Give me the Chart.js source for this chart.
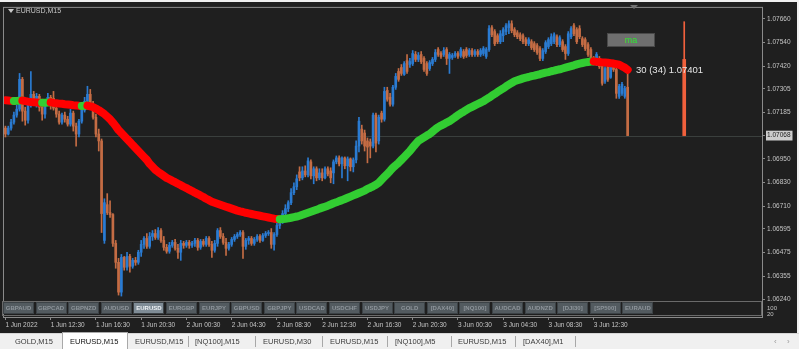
<!DOCTYPE html>
<html><head><meta charset="utf-8">
<script src="https://cdn.jsdelivr.net/npm/chart.js@4.4.1/dist/chart.umd.min.js"></script>
<style>
html,body{margin:0;padding:0}
body{width:799px;height:349px;background:#f0f0f0;position:relative;overflow:hidden;font-family:'Liberation Sans',Arial,sans-serif}
#cv{position:absolute;left:0;top:2px;background:#1f1f1f}
.ov{position:absolute;white-space:nowrap}
#title{left:16px;top:7px;font-size:7px;line-height:8px;color:#c8c8c8}
#tri{left:8px;top:9px;width:0;height:0;border-left:3px solid transparent;border-right:3px solid transparent;border-top:4px solid #c8c8c8}
#shift{left:630px;top:5px;width:0;height:0;border-left:4px solid transparent;border-right:4px solid transparent;border-top:4px solid #707070}
#mabtn{left:607px;top:33px;width:46px;height:12px;background:#6f6f6f;border:1px solid #4a4a4a;color:#2ee02e;font-size:9px;line-height:12px;text-align:center}
#lbl{left:636px;top:64px;font-size:9.5px;line-height:12px;color:#e6e6e6}
#btnrow{left:2px;top:301px;width:760px;height:15px;border:1px solid #6a6a6a;box-sizing:border-box}
.sb{position:absolute;top:302px;width:31px;height:12px;box-sizing:border-box;background:#535b60;border:1px solid #3c4246;color:#8e959b;font-size:6px;line-height:10px;text-align:center;font-weight:bold}
.sb.act{background:#7f8c96;color:#eef2f5}
.rt{left:767px;font-size:6px;line-height:6px;color:#c0c0c0}
#tabs{left:0;top:333px;width:799px;height:16px;background:#f0f0f0;border-top:1px solid #d6d6d6;box-sizing:border-box}
.tb{position:absolute;top:337px;font-size:7.5px;line-height:9px;color:#3a3a3a}
.sep{position:absolute;top:336px;width:1px;height:11px;background:#a8a8a8}
#act{left:62px;top:332px;width:66px;height:17px;background:#ffffff;border:1px solid #a9a9a9;border-bottom:none;box-sizing:border-box}
.arr{position:absolute;top:337px;font-size:8px;line-height:9px;color:#9a9a9a}
</style></head><body>
<canvas id="cv" width="797" height="331"></canvas>
<div class="ov" id="tri"></div>
<div class="ov" id="title">EURUSD,M15</div>
<div class="ov" id="shift"></div>
<div class="ov" id="mabtn">ma</div>
<div class="ov" id="lbl">30 (34) 1.07401</div>
<div class="ov" id="btnrow"></div>
<div id="btns"></div>
<div class="ov rt" style="top:305px">100</div>
<div class="ov rt" style="top:311px">20</div>
<div class="ov" id="tabs"></div>
<div class="ov" id="act"></div>
<span class="tb" style="left:15px">GOLD,M15</span>
<span class="tb" style="left:70px;color:#111">EURUSD,M15</span>
<span class="tb" style="left:135px">EURUSD,M15</span>
<div class="sep" style="left:188px"></div>
<span class="tb" style="left:195px">[NQ100],M15</span>
<div class="sep" style="left:255px"></div>
<span class="tb" style="left:263px">EURUSD,M30</span>
<div class="sep" style="left:322px"></div>
<span class="tb" style="left:330px">EURUSD,M15</span>
<div class="sep" style="left:387px"></div>
<span class="tb" style="left:395px">[NQ100],M5</span>
<div class="sep" style="left:451px"></div>
<span class="tb" style="left:458px">EURUSD,M15</span>
<div class="sep" style="left:515px"></div>
<span class="tb" style="left:523px">[DAX40],M1</span>
<div class="sep" style="left:575px"></div>
<span class="arr" style="left:774px">&#8249;</span>
<span class="arr" style="left:787px">&#8250;</span>
<script>
// ---------- data ----------
const slotCount = 268;
const timeTickIdx = [0,16,32,48,64,80,96,112,128,144,160,176,192,208];
const timeTickLabels = ['1 Jun 2022','1 Jun 12:30','1 Jun 16:30','1 Jun 20:30','2 Jun 00:30','2 Jun 04:30','2 Jun 08:30','2 Jun 12:30','2 Jun 16:30','2 Jun 20:30','3 Jun 00:30','3 Jun 04:30','3 Jun 08:30','3 Jun 12:30'];
const priceTicks = [1.07660,1.07540,1.07420,1.07305,1.07185,1.07068,1.06950,1.06830,1.06710,1.06595,1.06475,1.06355,1.06240];
const currentPrice = 1.07068;
const symbolButtons = ['GBPAUD','GBPCAD','GBPNZD','AUDUSD','EURUSD','EURGBP','EURJPY','GBPUSD','GBPJPY','USDCAD','USDCHF','USDJPY','GOLD','[DAX40]','[NQ100]','AUDCAD','AUDNZD','[DJI30]','[SP500]','EURAUD'];
const activeSymbol = 'EURUSD';

const openP = [
1.07106,1.07076,1.07106,1.07136,1.07172,1.07202,1.07353,1.07192,1.07146,1.07222,
1.07277,1.07237,1.07267,1.07212,1.07177,1.07232,1.07262,1.07257,1.07207,1.07177,
1.07136,1.07172,1.07151,1.07126,1.07182,1.07116,1.07076,1.07141,1.07197,1.07242,
1.07277,1.07227,1.07161,1.07076,1.07041,1.06537,1.06718,1.06678,1.06668,1.06522,
1.06426,1.06275,1.06451,1.06401,1.06456,1.06406,1.06436,1.06426,1.06477,1.06517,
1.06547,1.06507,1.06557,1.06572,1.06552,1.06587,1.06537,1.06502,1.06482,1.06512,
1.06527,1.06497,1.06477,1.06522,1.06512,1.06527,1.06512,1.06522,1.06537,1.06502,
1.06532,1.06517,1.06547,1.06517,1.06487,1.06522,1.06587,1.06557,1.06527,1.06497,
1.06517,1.06542,1.06557,1.06567,1.06577,1.06507,1.06537,1.06547,1.06522,1.06542,
1.06557,1.06537,1.06562,1.06572,1.06577,1.06517,1.06567,1.06613,1.06638,1.06673,
1.06698,1.06728,1.06779,1.06809,1.06884,1.06854,1.06889,1.06869,1.06935,1.06864,
1.06900,1.06854,1.06879,1.06854,1.06900,1.06889,1.06879,1.06935,1.06955,1.06925,
1.06955,1.06915,1.06950,1.06910,1.06945,1.07015,1.07101,1.07081,1.07041,1.07036,
1.07015,1.07172,1.07041,1.07182,1.07151,1.07297,1.07262,1.07227,1.07313,1.07393,
1.07413,1.07378,1.07448,1.07428,1.07433,1.07479,1.07454,1.07479,1.07459,1.07433,
1.07408,1.07433,1.07454,1.07504,1.07484,1.07479,1.07504,1.07459,1.07464,1.07474,
1.07484,1.07474,1.07494,1.07504,1.07479,1.07499,1.07479,1.07494,1.07479,1.07484,
1.07469,1.07504,1.07615,1.07595,1.07574,1.07544,1.07574,1.07595,1.07615,1.07635,
1.07605,1.07589,1.07579,1.07574,1.07554,1.07534,1.07544,1.07534,1.07524,1.07509,
1.07459,1.07494,1.07519,1.07534,1.07544,1.07569,1.07529,1.07544,1.07519,1.07484,
1.07569,1.07625,1.07605,1.07610,1.07559,1.07554,1.07529,1.07504,1.07459,1.07433,
1.07459,1.07433,1.07343,1.07418,1.07363,1.07433,1.07403,1.07267,1.07282,1.07267,
1.07313];
const highP = [
1.07116,1.07116,1.07151,1.07187,1.07222,1.07383,1.07363,1.07212,1.07242,1.07393,
1.07292,1.07282,1.07277,1.07227,1.07242,1.07282,1.07272,1.07292,1.07222,1.07192,
1.07182,1.07187,1.07166,1.07202,1.07192,1.07131,1.07151,1.07212,1.07262,1.07318,
1.07302,1.07242,1.07177,1.07101,1.07051,1.06748,1.06774,1.06738,1.06673,1.06537,
1.06446,1.06466,1.06456,1.06477,1.06466,1.06446,1.06451,1.06487,1.06537,1.06557,
1.06572,1.06577,1.06587,1.06592,1.06602,1.06597,1.06557,1.06517,1.06527,1.06537,
1.06542,1.06517,1.06537,1.06532,1.06537,1.06537,1.06532,1.06547,1.06547,1.06542,
1.06542,1.06557,1.06557,1.06532,1.06537,1.06597,1.06602,1.06572,1.06547,1.06527,
1.06552,1.06567,1.06577,1.06587,1.06587,1.06547,1.06557,1.06557,1.06552,1.06567,
1.06567,1.06572,1.06582,1.06587,1.06597,1.06577,1.06628,1.06658,1.06688,1.06718,
1.06738,1.06799,1.06829,1.06869,1.06910,1.06910,1.06915,1.06955,1.06945,1.06910,
1.06910,1.06900,1.06900,1.06910,1.06910,1.06905,1.06945,1.06965,1.06965,1.06960,
1.06960,1.06960,1.06955,1.06955,1.07041,1.07161,1.07121,1.07096,1.07056,1.07051,
1.07182,1.07182,1.07172,1.07192,1.07313,1.07313,1.07282,1.07323,1.07383,1.07408,
1.07428,1.07443,1.07479,1.07459,1.07499,1.07494,1.07489,1.07494,1.07469,1.07443,
1.07448,1.07464,1.07504,1.07514,1.07494,1.07514,1.07514,1.07489,1.07484,1.07494,
1.07494,1.07514,1.07504,1.07514,1.07509,1.07509,1.07504,1.07504,1.07509,1.07519,
1.07514,1.07625,1.07625,1.07605,1.07584,1.07600,1.07615,1.07635,1.07650,1.07650,
1.07615,1.07600,1.07589,1.07584,1.07564,1.07564,1.07554,1.07544,1.07534,1.07519,
1.07509,1.07549,1.07564,1.07584,1.07589,1.07579,1.07574,1.07554,1.07529,1.07595,
1.07620,1.07635,1.07615,1.07625,1.07569,1.07564,1.07539,1.07514,1.07469,1.07489,
1.07469,1.07443,1.07418,1.07428,1.07443,1.07443,1.07413,1.07328,1.07338,1.07318,
1.07393];
const lowP = [
1.07061,1.07071,1.07096,1.07126,1.07161,1.07192,1.07141,1.07121,1.07131,1.07212,
1.07222,1.07212,1.07192,1.07146,1.07156,1.07222,1.07202,1.07197,1.07161,1.07126,
1.07126,1.07136,1.07116,1.07116,1.07091,1.07015,1.07061,1.07131,1.07187,1.07232,
1.07217,1.07151,1.07061,1.06990,1.06577,1.06522,1.06668,1.06653,1.06507,1.06396,
1.06260,1.06255,1.06386,1.06386,1.06376,1.06396,1.06411,1.06416,1.06456,1.06497,
1.06497,1.06497,1.06537,1.06542,1.06542,1.06527,1.06487,1.06472,1.06472,1.06502,
1.06487,1.06446,1.06436,1.06497,1.06502,1.06497,1.06502,1.06507,1.06487,1.06492,
1.06507,1.06507,1.06507,1.06451,1.06477,1.06507,1.06547,1.06517,1.06461,1.06487,
1.06507,1.06532,1.06547,1.06557,1.06446,1.06492,1.06517,1.06512,1.06512,1.06532,
1.06527,1.06532,1.06552,1.06562,1.06497,1.06487,1.06557,1.06597,1.06623,1.06658,
1.06683,1.06718,1.06769,1.06794,1.06839,1.06844,1.06859,1.06859,1.06849,1.06824,
1.06839,1.06844,1.06839,1.06849,1.06864,1.06829,1.06824,1.06925,1.06915,1.06854,
1.06900,1.06839,1.06889,1.06884,1.06930,1.06985,1.07025,1.06990,1.06930,1.06955,
1.07005,1.06985,1.07025,1.07136,1.07141,1.07242,1.07217,1.07217,1.07302,1.07343,
1.07373,1.07373,1.07383,1.07413,1.07423,1.07443,1.07443,1.07433,1.07393,1.07373,
1.07398,1.07423,1.07443,1.07469,1.07459,1.07469,1.07428,1.07383,1.07454,1.07464,
1.07459,1.07464,1.07459,1.07464,1.07469,1.07469,1.07469,1.07469,1.07469,1.07474,
1.07459,1.07494,1.07569,1.07524,1.07534,1.07534,1.07544,1.07579,1.07584,1.07589,
1.07569,1.07559,1.07549,1.07534,1.07524,1.07524,1.07504,1.07494,1.07479,1.07448,
1.07448,1.07484,1.07509,1.07524,1.07534,1.07519,1.07519,1.07494,1.07454,1.07474,
1.07559,1.07574,1.07534,1.07559,1.07519,1.07499,1.07469,1.07448,1.07428,1.07423,
1.07408,1.07323,1.07333,1.07343,1.07358,1.07393,1.07257,1.07257,1.07272,1.07257,
1.07068];
const closeP = [
1.07076,1.07106,1.07136,1.07172,1.07202,1.07353,1.07192,1.07146,1.07222,1.07277,
1.07237,1.07267,1.07212,1.07177,1.07232,1.07262,1.07227,1.07207,1.07177,1.07136,
1.07172,1.07151,1.07126,1.07182,1.07116,1.07076,1.07141,1.07197,1.07242,1.07277,
1.07227,1.07161,1.07076,1.07041,1.06673,1.06728,1.06678,1.06668,1.06522,1.06426,
1.06275,1.06451,1.06401,1.06456,1.06406,1.06436,1.06426,1.06477,1.06517,1.06547,
1.06507,1.06557,1.06572,1.06552,1.06587,1.06537,1.06502,1.06482,1.06512,1.06527,
1.06497,1.06477,1.06522,1.06512,1.06527,1.06512,1.06522,1.06537,1.06502,1.06532,
1.06517,1.06547,1.06517,1.06487,1.06522,1.06587,1.06557,1.06527,1.06497,1.06517,
1.06542,1.06557,1.06567,1.06577,1.06507,1.06537,1.06547,1.06522,1.06542,1.06557,
1.06537,1.06562,1.06572,1.06577,1.06517,1.06567,1.06613,1.06638,1.06673,1.06698,
1.06728,1.06779,1.06809,1.06849,1.06854,1.06889,1.06869,1.06940,1.06864,1.06900,
1.06854,1.06879,1.06854,1.06900,1.06874,1.06854,1.06935,1.06955,1.06925,1.06955,
1.06915,1.06950,1.06910,1.06945,1.07015,1.07141,1.07041,1.07015,1.07010,1.07015,
1.07172,1.07030,1.07161,1.07151,1.07292,1.07252,1.07227,1.07313,1.07368,1.07353,
1.07383,1.07433,1.07393,1.07443,1.07484,1.07454,1.07474,1.07443,1.07403,1.07383,
1.07438,1.07454,1.07489,1.07479,1.07469,1.07499,1.07459,1.07479,1.07474,1.07484,
1.07469,1.07504,1.07469,1.07474,1.07499,1.07479,1.07494,1.07479,1.07499,1.07509,
1.07504,1.07610,1.07579,1.07534,1.07544,1.07584,1.07605,1.07625,1.07635,1.07600,
1.07579,1.07569,1.07559,1.07544,1.07534,1.07554,1.07514,1.07504,1.07489,1.07459,
1.07499,1.07539,1.07554,1.07569,1.07579,1.07529,1.07564,1.07504,1.07484,1.07584,
1.07610,1.07584,1.07544,1.07569,1.07529,1.07509,1.07479,1.07459,1.07443,1.07479,
1.07418,1.07333,1.07408,1.07353,1.07433,1.07403,1.07282,1.07318,1.07328,1.07307,
1.07068];
const maValues = [
1.07247,1.07246,1.07244,1.07243,1.07244,1.07245,1.07246,1.07243,1.07240,1.07238,
1.07237,1.07236,1.07235,1.07234,1.07235,1.07236,1.07237,1.07234,1.07232,1.07230,
1.07229,1.07227,1.07226,1.07224,1.07222,1.07221,1.07219,1.07218,1.07219,1.07220,
1.07216,1.07212,1.07205,1.07197,1.07187,1.07177,1.07164,1.07151,1.07134,1.07116,
1.07096,1.07081,1.07066,1.07051,1.07036,1.07020,1.07005,1.06990,1.06975,1.06960,
1.06945,1.06925,1.06910,1.06895,1.06884,1.06874,1.06864,1.06854,1.06847,1.06839,
1.06832,1.06824,1.06817,1.06809,1.06802,1.06794,1.06787,1.06779,1.06772,1.06764,
1.06757,1.06748,1.06741,1.06733,1.06728,1.06723,1.06718,1.06713,1.06708,1.06703,
1.06698,1.06693,1.06688,1.06684,1.06681,1.06677,1.06674,1.06671,1.06668,1.06665,
1.06662,1.06659,1.06656,1.06653,1.06650,1.06647,1.06645,1.06644,1.06645,1.06647,
1.06649,1.06652,1.06655,1.06658,1.06662,1.06667,1.06672,1.06677,1.06682,1.06687,
1.06692,1.06698,1.06703,1.06708,1.06713,1.06719,1.06725,1.06730,1.06736,1.06741,
1.06747,1.06753,1.06759,1.06765,1.06771,1.06777,1.06783,1.06789,1.06798,1.06804,
1.06811,1.06819,1.06829,1.06844,1.06859,1.06874,1.06889,1.06905,1.06918,1.06930,
1.06945,1.06960,1.06975,1.06990,1.07008,1.07025,1.07041,1.07050,1.07059,1.07068,
1.07076,1.07088,1.07100,1.07111,1.07119,1.07126,1.07134,1.07141,1.07151,1.07161,
1.07172,1.07181,1.07189,1.07198,1.07207,1.07214,1.07221,1.07228,1.07235,1.07242,
1.07251,1.07260,1.07270,1.07279,1.07289,1.07298,1.07307,1.07317,1.07326,1.07335,
1.07343,1.07348,1.07353,1.07358,1.07362,1.07365,1.07369,1.07372,1.07376,1.07379,
1.07383,1.07387,1.07390,1.07394,1.07397,1.07401,1.07404,1.07408,1.07412,1.07416,
1.07420,1.07424,1.07429,1.07433,1.07436,1.07439,1.07441,1.07443,1.07444,1.07442,
1.07441,1.07439,1.07438,1.07437,1.07435,1.07433,1.07430,1.07427,1.07419,1.07412,
1.07401];
const spikeIndex = 240;
const spikeWick = [1.07068, 1.07645];
const spikeBody = [1.07068, 1.07454];

// ---------- styles ----------
const BULL = '#2a7bd2', BEAR = '#c46c44', MA_UP = '#32cd32', MA_DN = '#ff0000', SPIKE = '#f0603c';
const FRAME = '#8a8a8a', TXT = '#c4c4c4';

// ---------- buttons (text overlay) ----------
const btnBox = document.getElementById('btns');
symbolButtons.forEach((s, k) => {
  const d = document.createElement('div');
  d.className = 'sb' + (s === activeSymbol ? ' act' : '');
  d.style.left = (3 + k * 32.6).toFixed(1) + 'px';
  d.textContent = s;
  btnBox.appendChild(d);
});

// ---------- chart ----------
const categories = Array.from({length: slotCount}, (_, i) => {
  const k = timeTickIdx.indexOf(i);
  return k >= 0 ? timeTickLabels[k] : '';
});
const candleColors = closeP.map((c, i) => c >= openP[i] ? BULL : BEAR);
const wickData = lowP.map((l, i) => [l, highP[i]]);
const bodyData = openP.map((o, i) => [o, closeP[i]]);
const spikeWickData = categories.map((_, i) => i === spikeIndex ? spikeWick : null);
const spikeBodyData = categories.map((_, i) => i === spikeIndex ? spikeBody : null);

const framePlugin = {
  id: 'frame',
  beforeDatasetsDraw(chart) {
    const {ctx, chartArea: a, scales} = chart;
    ctx.save();
    const y = Math.round(scales.y.getPixelForValue(currentPrice)) + 0.5;
    ctx.strokeStyle = '#3a3f3d'; ctx.lineWidth = 1;
    ctx.beginPath(); ctx.moveTo(a.left, y); ctx.lineTo(a.right, y); ctx.stroke();
    ctx.strokeStyle = FRAME;
    ctx.strokeRect(a.left - 0.5, a.top - 0.5, a.right - a.left + 1, a.bottom - a.top + 1);
    ctx.restore();
  }
};

new Chart(document.getElementById('cv'), {
  type: 'bar',
  data: {
    labels: categories,
    datasets: [
      {type:'bar', data: spikeBodyData, backgroundColor: SPIKE, barThickness: 3, grouped:false, order:0},
      {type:'bar', data: spikeWickData, backgroundColor: SPIKE, barThickness: 1, grouped:false, order:0},
      {type:'line', data: maValues, borderWidth: 8, pointRadius: 0, borderColor: MA_DN,
        borderCapStyle:'round', borderJoinStyle:'round', tension: 0, clip: 0, order:1,
        segment: {borderColor: c => c.p1.parsed.y > c.p0.parsed.y ? MA_UP : MA_DN}},
      {type:'bar', data: bodyData, backgroundColor: candleColors, barThickness: 2, minBarLength: 1, grouped:false, order:2},
      {type:'bar', data: wickData, backgroundColor: candleColors, barThickness: 1, grouped:false, order:3}
    ]
  },
  options: {
    responsive: false, animation: false, devicePixelRatio: 1,
    layout: {padding: {left: 4, top: 4, right: 0, bottom: 0}},
    plugins: {legend: {display: false}, tooltip: {enabled: false}},
    scales: {
      x: {
        type: 'category', offset: true,
        grid: {display: true, drawOnChartArea: false, drawTicks: true, tickLength: 3, color: FRAME, offset: false},
        border: {display: false},
        ticks: {autoSkip: false, maxRotation: 0, minRotation: 0, align: 'start', padding: 1, color: TXT,
          font: {family: 'Liberation Sans', size: 6.5}},
        afterBuildTicks: s => { s.ticks = timeTickIdx.map(v => ({value: v})); },
        afterFit: s => { s.height = 16; }
      },
      y: {
        type: 'linear', position: 'right', min: 1.06149, max: 1.07715,
        grid: {display: true, drawOnChartArea: false, drawTicks: true, tickLength: 3, color: FRAME},
        border: {display: false},
        ticks: {autoSkip: false, padding: 2,
          color: c => c.tick && c.tick.value === currentPrice ? '#202020' : TXT,
          showLabelBackdrop: true,
          backdropColor: c => c.tick && c.tick.value === currentPrice ? '#cdcdcd' : 'rgba(0,0,0,0)',
          backdropPadding: {top: 1, bottom: 1, left: 1, right: 2},
          font: {family: 'Liberation Sans', size: 6.5},
          callback: v => Number(v).toFixed(5)},
        afterBuildTicks: s => { s.ticks = priceTicks.map(v => ({value: v})); },
        afterFit: s => { s.width = 35; }
      }
    }
  },
  plugins: [framePlugin]
});
</script>
</body></html>
